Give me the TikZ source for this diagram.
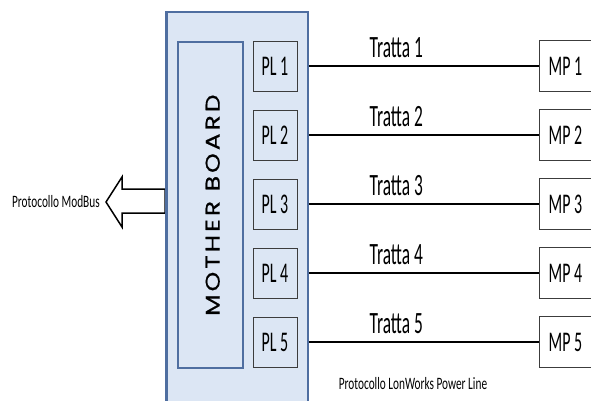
\documentclass[tikz,border=0pt]{standalone}
\usepackage{fontspec}
\setmainfont{Carlito}
\newfontfamily\cond[FakeStretch=0.56]{Carlito}
\newfontfamily\condsmall[FakeStretch=0.65]{Carlito}
\newfontfamily\mbfont[FakeStretch=1.25,LetterSpace=15,FakeBold=0.6]{Poppins}
\definecolor{boxblue}{RGB}{79,110,160}
\definecolor{boxfill}{RGB}{220,230,244}
\definecolor{edgegray}{RGB}{60,60,60}
\tikzset{
  plbox/.style={draw=edgegray, line width=0.9pt, minimum width=44pt, minimum height=50pt, inner sep=0pt, font=\cond\fontsize{28.5}{28.5}\selectfont},
  mpbox/.style={draw=edgegray, line width=0.9pt, fill=white, minimum width=52pt, minimum height=51pt, inner sep=0pt, anchor=west, font=\cond\fontsize{28.5}{28.5}\selectfont},
  link/.style={line width=2.8pt, black},
  tlabel/.style={above=7pt, inner sep=0pt, font=\cond\fontsize{31}{31}\selectfont},
  small/.style={font=\condsmall\fontsize{17.4}{17.4}\selectfont, inner sep=0pt}
}
\begin{document}
\begin{tikzpicture}[x=1pt,y=-1pt]
\path[use as bounding box] (0,0) rectangle (591,400);
\clip (0,0) rectangle (591,400);
% outer board
\node[draw=boxblue, line width=1.8pt, fill=boxfill, minimum width=141pt, minimum height=400pt, inner sep=0pt, anchor=north west] (outer) at (166,11) {};
% mother board
\node[draw=boxblue, line width=2.4pt, minimum width=65pt, minimum height=326pt, inner sep=0pt, anchor=north west] (mb) at (177,41) {};
\node[rotate=90, font=\mbfont\fontsize{20}{20}\selectfont] (mbtext) at ([xshift=2pt]mb.center) {MOTHER BOARD};
% PL boxes and MP boxes
\foreach \i in {1,...,5}{
  \pgfmathsetmacro{\yy}{66+69*(\i-1)}
  \node[plbox] (pl\i) at (275,\yy) {PL \i};
  \node[mpbox] (mp\i) at (539,\yy) {MP \i};
  \draw[link] (outer.east |- pl\i) -- node[tlabel, pos=0.38] (t\i) {Tratta \i} (mp\i.west);
}
% hollow arrow
\draw[line width=1.5pt, fill=white] (106,202) -- (122,177) -- (122,189) -- (165,189) -- (165,213) -- (122,213) -- (122,227) -- cycle;
\draw[boxblue, line width=1.8pt] (outer.north west) -- (outer.south west);
\node[small, anchor=east] (modbus) at (100,202) {Protocollo ModBus};
\node[small] (lon) at (413,384) {Protocollo LonWorks Power Line};
\end{tikzpicture}
\end{document}
